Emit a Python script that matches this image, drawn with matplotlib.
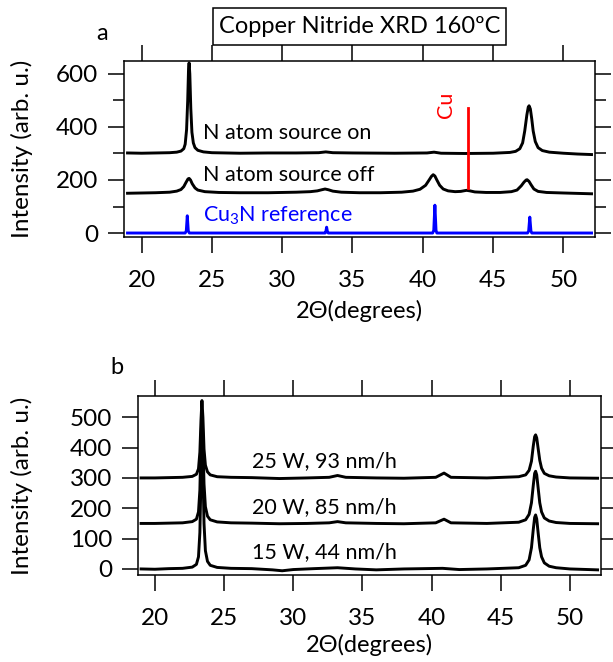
import matplotlib
matplotlib.use("Agg")
import matplotlib.pyplot as plt
from matplotlib.patches import Rectangle
from matplotlib.ticker import MultipleLocator

plt.rcParams['font.family'] = ['Lato', 'DejaVu Sans']
plt.rcParams['mathtext.fontset'] = 'custom'
plt.rcParams['mathtext.rm'] = 'Lato'
plt.rcParams['mathtext.it'] = 'Lato:italic'

# ---- Panel a: N atom source on / off and Cu3N reference ----
on_x = [19.0, 20.0, 21.0, 22.0, 22.5, 22.8, 23.0, 23.1, 23.2, 23.28, 23.34, 23.38,
        23.43, 23.5, 23.58, 23.68, 23.8, 24.0, 24.4, 25.0, 27.0, 29.0, 31.0, 32.6,
        33.1, 33.6, 35.0, 38.0, 40.3, 40.8, 41.3, 43.0, 45.0, 46.2, 46.6, 46.9,
        47.1, 47.25, 47.4, 47.5, 47.56, 47.65, 47.75, 47.85, 48.0, 48.2, 48.5,
        49.0, 50.0, 51.0, 52.0]
on_y = [2, 1, 2, 3, 5, 9, 18, 35, 90, 200, 320, 342,
        300, 170, 80, 40, 22, 12, 6, 3, 1, 2, 2, 3,
        6, 3, 2, 1, 2, 5, 1, 0, 1, 4, 8, 18,
        40, 85, 145, 175, 180, 168, 130, 85, 45, 22, 11,
        5, 1, -2, -4]

off_x = [19.0, 20.0, 21.0, 22.0, 22.5, 22.8, 23.0, 23.15, 23.3, 23.38, 23.48, 23.6,
         23.8, 24.0, 24.5, 25.5, 27.0, 29.0, 31.0, 32.0, 32.5, 32.8, 33.05, 33.3,
         33.6, 34.2, 35.5, 37.0, 38.5, 39.3, 39.8, 40.2, 40.45, 40.62, 40.74, 40.86,
         41.0, 41.2, 41.45, 41.8, 42.3, 42.7, 43.0, 43.12, 43.35, 43.7, 44.5, 45.5,
         46.3, 46.7, 47.0, 47.2, 47.35, 47.42, 47.55, 47.7, 47.9, 48.2, 48.8, 50.0,
         52.0]
off_y = [0, 1, 2, 4, 8, 14, 25, 40, 54, 56, 50, 36,
         20, 12, 6, 3, 2, 2, 4, 6, 9, 13, 16, 13,
         8, 4, 2, 2, 4, 8, 15, 30, 50, 64, 70, 65,
         50, 30, 16, 9, 6, 7, 10, 11, 9, 5, 3, 3,
         6, 12, 28, 42, 50, 51, 45, 32, 16, 7, 3, 1,
         -2]

ref_x = [19.0, 23.1, 23.18, 23.25, 23.32, 23.4, 33.05, 33.1, 33.16, 33.22, 33.28,
         40.7, 40.78, 40.86, 40.94, 41.0, 47.45, 47.53, 47.61, 47.69, 47.75, 52.0]
ref_y = [0, 0, 8, 65, 8, 0, 0, 4, 22, 4, 0,
         0, 10, 105, 10, 0, 0, 8, 60, 8, 0, 0]

a_offsets = [300, 150, 0]
a_labels = ["N atom source on", "N atom source off", "Cu$_3$N reference"]
a_label_y = [377, 219, 64]

cu_line_x = 43.23
cu_line_y = [170, 472]

# ---- Panel b: plasma power series ----
w15_x = [19.0, 20.0, 21.0, 22.0, 22.7, 23.0, 23.15, 23.25, 23.33, 23.4, 23.47, 23.55,
         23.65, 23.8, 24.0, 24.5, 25.5, 27.0, 28.5, 29.2, 30.0, 31.5, 33.2, 34.5,
         36.0, 38.0, 40.8, 42.0, 44.0, 46.3, 46.8, 47.05, 47.22, 47.35, 47.45, 47.52,
         47.6, 47.7, 47.82, 47.95, 48.15, 48.5, 49.0, 50.0, 52.0]
w15_y = [0, -1, 1, 2, 6, 15, 40, 120, 300, 430, 330, 150,
         60, 25, 12, 5, 2, 1, -3, -6, -2, 1, 4, 0,
         -3, 0, 2, -2, 0, 4, 12, 30, 70, 130, 170, 178,
         165, 120, 70, 40, 20, 9, 4, 0, -3]

w20_x = [19.0, 20.0, 21.0, 22.0, 22.7, 23.0, 23.15, 23.25, 23.33, 23.4, 23.47, 23.55,
         23.65, 23.8, 24.0, 24.5, 25.5, 27.0, 29.0, 31.0, 32.6, 33.2, 33.8, 36.0,
         38.0, 40.3, 40.9, 41.4, 44.0, 46.3, 46.8, 47.05, 47.22, 47.35, 47.45, 47.52,
         47.6, 47.7, 47.82, 47.95, 48.15, 48.5, 49.0, 50.0, 52.0]
w20_y = [0, 0, 1, 2, 6, 14, 38, 110, 270, 370, 280, 130,
         55, 24, 12, 5, 2, 1, -1, 0, 2, 6, 2, 0,
         -1, 2, 14, 2, 0, 4, 12, 30, 68, 125, 165, 172,
         160, 118, 68, 38, 18, 8, 3, 0, -1]

w25_x = [19.0, 20.0, 21.0, 22.0, 22.7, 23.0, 23.15, 23.25, 23.33, 23.4, 23.47, 23.55,
         23.65, 23.8, 24.0, 24.5, 25.5, 27.0, 29.0, 31.0, 32.6, 33.2, 33.8, 36.0,
         38.0, 40.3, 40.9, 41.4, 44.0, 46.3, 46.8, 47.05, 47.22, 47.35, 47.45, 47.52,
         47.6, 47.7, 47.82, 47.95, 48.15, 48.5, 49.0, 50.0, 52.0]
w25_y = [0, 0, 1, 2, 5, 12, 30, 85, 190, 255, 200, 95,
         42, 20, 10, 4, 2, 1, -2, 0, 2, 8, 2, 0,
         -1, 2, 16, 2, 0, 4, 10, 25, 55, 105, 136, 142,
         132, 98, 58, 32, 15, 7, 3, 0, -1]

b_offsets = [0, 150, 300]
b_labels = ["15 W, 44 nm/h", "20 W, 85 nm/h", "25 W, 93 nm/h"]
b_label_y = [57, 205, 354]

x_ticks = [20, 25, 30, 35, 40, 45, 50]
x_lim = (18.75, 52.25)

fig = plt.figure(figsize=(6.13, 6.62), dpi=100)
ax_a = fig.add_axes([0.2023, 0.642, 0.7684, 0.2659])
ax_b = fig.add_axes([0.2245, 0.1314, 0.7560, 0.2704])

lw_curve = 2.1
ax_a.plot(on_x, [v + a_offsets[0] for v in on_y], color='black', lw=lw_curve)
ax_a.plot(off_x, [v + a_offsets[1] for v in off_y], color='black', lw=lw_curve)
ax_a.plot(ref_x, [v + a_offsets[2] for v in ref_y], color='#0000ff', lw=lw_curve)
ax_a.plot([cu_line_x, cu_line_x], cu_line_y, color='#ff0000', lw=2.0)

for txt, yy, col in zip(a_labels, a_label_y, ['black', 'black', '#0000ff']):
    ax_a.text(24.37, yy, txt, color=col, fontsize=15.5, va='center', ha='left')
ax_a.text(41.64, 483, "Cu", color='#ff0000', fontsize=15.5, rotation=90,
          va='center', ha='center')

for vals_x, vals_y, off in zip([w15_x, w20_x, w25_x], [w15_y, w20_y, w25_y], b_offsets):
    ax_b.plot(vals_x, [v + off for v in vals_y], color='black', lw=lw_curve)
for txt, yy in zip(b_labels, b_label_y):
    ax_b.text(27.05, yy, txt, color='black', fontsize=15.5, va='center', ha='left')

ax_a.set_xlim(*x_lim)
ax_a.set_ylim(-15, 649)
ax_a.yaxis.set_major_locator(MultipleLocator(200))
ax_a.yaxis.set_minor_locator(MultipleLocator(100))
ax_b.set_xlim(*x_lim)
ax_b.set_ylim(-20, 570)
ax_b.yaxis.set_major_locator(MultipleLocator(100))

for ax, lp in ((ax_a, 6), (ax_b, 3)):
    ax.set_xticks(x_ticks)
    for s in ax.spines.values():
        s.set_linewidth(1.1)
    ax.tick_params(axis='both', which='major', direction='out', length=11.5,
                   width=1.1, labelsize=17.5, top=True, right=True,
                   labeltop=False, labelright=False)
    ax.tick_params(axis='x', pad=12.5)
    ax.tick_params(axis='y', pad=7)
    ax.tick_params(axis='y', which='minor', direction='out', length=8,
                   width=1.1, right=True)
    ax.set_xlabel("2\u0398(degrees)", fontsize=17, labelpad=lp)
    ax.set_ylabel("Intensity (arb. u.)", fontsize=17.5)

ax_a.yaxis.set_label_coords(-0.193, 0.5)
ax_b.yaxis.set_label_coords(-0.226, 0.5)

fig.text(102 / 613, 1 - 33 / 662, "a", fontsize=17, ha='center', va='center')
fig.text(117 / 613, 1 - 367 / 662, "b", fontsize=17, ha='center', va='center')

# Title box
fig.patches.append(Rectangle((213 / 613, 1 - 45 / 662), 293 / 613, 37 / 662,
                             transform=fig.transFigure, fill=False,
                             edgecolor='black', lw=1.1))
fig.text(359.5 / 613, 1 - 26.5 / 662, "Copper Nitride XRD 160\u00baC",
         fontsize=17, ha='center', va='center')

fig.savefig("out.png", dpi=100)
